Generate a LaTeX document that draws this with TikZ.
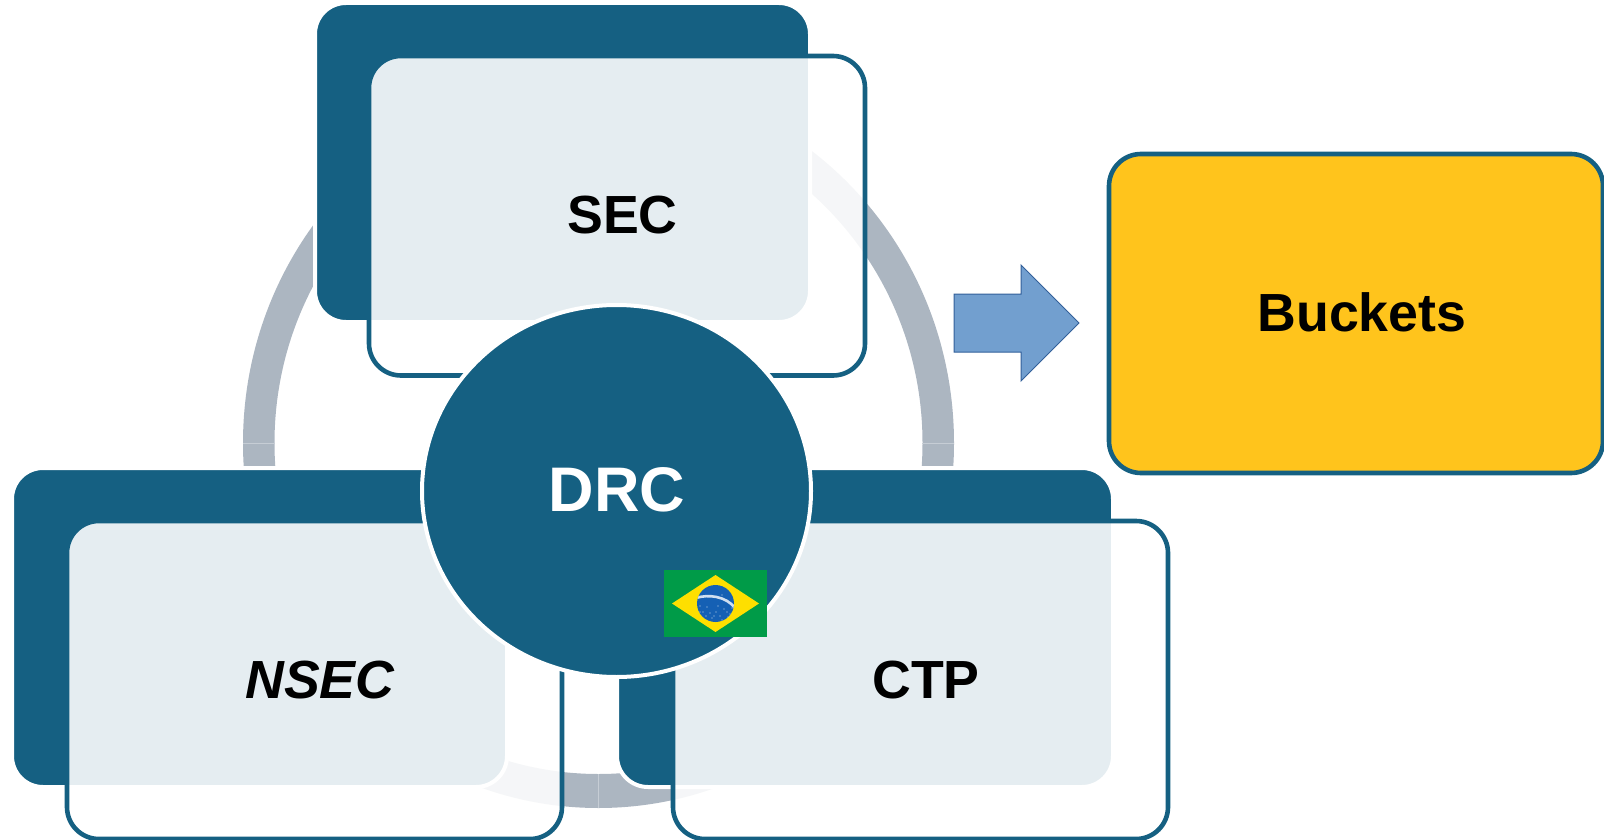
\documentclass[tikz,border=0pt]{standalone}
\usepackage{fontspec}
\usetikzlibrary{shapes.geometric}
\setmainfont{Liberation Sans}
\definecolor{darkteal}{HTML}{156082}
\definecolor{ringgray}{HTML}{ACB6C1}
\definecolor{ringseam}{HTML}{C6CDD5}
\definecolor{bucketgold}{HTML}{FFC41C}
\definecolor{arrowblue}{HTML}{729FCF}
\definecolor{arrowedge}{HTML}{33609A}
\definecolor{flaggreen}{HTML}{009B48}
\definecolor{flagyellow}{HTML}{FEDF00}
\definecolor{flagblue}{HTML}{1560B4}
\tikzset{
  x=1pt,y=-1pt,
  backbox/.style={fill=darkteal,draw=white,line width=4pt,rounded corners=31pt},
  frontbox/.style={draw=darkteal,line width=4.6pt,fill=white,fill opacity=0.89,rounded corners=32pt},
  boxlabel/.style={font=\bfseries\fontsize{53.7}{60}\selectfont,text=black,inner sep=0pt},
  flagdot/.style={fill=white!75!flagblue}
}
\begin{document}
\begin{tikzpicture}
\useasboundingbox (0,0) rectangle (1604,840);
% ring
\fill[ringgray,even odd rule] (598.5,443) ellipse [x radius=355.5,y radius=365]
  (598.5,443) ellipse [x radius=324,y radius=331];
\draw[ringseam,line width=0.7pt] (243,443) -- (275,443);
\draw[ringseam,line width=0.7pt] (922,443) -- (954,443);
\draw[ringseam,line width=0.7pt] (598,774) -- (598,808);
% SEC
\draw[backbox] (315,3) rectangle (810,322);
\draw[frontbox] (369,56) rectangle (865,375.5);
% NSEC
\draw[backbox] (12,468) rectangle (507,787);
\draw[frontbox] (67,521) rectangle (562,839);
% CTP
\draw[backbox] (617,468) rectangle (1113,787);
\draw[frontbox] (673,521) rectangle (1168,839);
% hub
\node[ellipse,draw=white,fill=darkteal,line width=4pt,minimum width=389pt,minimum height=372pt,inner sep=0pt] (hub) at (616.5,491) {};
\node[boxlabel,text=white,font=\bfseries\fontsize{63}{70}\selectfont] (drc) at (617,490) {DRC};
\node[boxlabel] (sec) at (622.5,215) {SEC};
\node[boxlabel,font=\bfseries\itshape\fontsize{53.7}{60}\selectfont] (nsec) at (320,680) {NSEC};
\node[boxlabel] (ctp) at (926,680) {CTP};
% block arrow
\draw[fill=arrowblue,draw=arrowedge,line width=1pt]
  (954,294) -- (1021,294) -- (1021,265) -- (1079,323) -- (1021,381) -- (1021,352) -- (954,352) -- cycle;
% Buckets
\draw[fill=bucketgold,draw=darkteal,line width=4.6pt,rounded corners=32pt] (1109,154) rectangle (1603,473);
\node[boxlabel] (buckets) at (1362,312) {Buckets};
% flag
\fill[flaggreen] (664,570) rectangle (767,637);
\fill[flagyellow] (672,603.5) -- (715.5,575) -- (759,603.5) -- (715.5,632) -- cycle;
\fill[flagblue] (715.5,603.5) circle [radius=18.5];
\begin{scope}
\clip (715.5,603.5) circle [radius=18.5];
\draw[white!80!flagblue,line width=2.6pt] (696,598) .. controls (708,594) and (726,596) .. (735,608);
\end{scope}
\foreach \px/\py in {700/606,703/612,707/607,710/613,712/618,706/616,716/612,720/616,724/609,727/612,730/614,732/608,728/617,722/620,718/606,722/595,700/612,714/616}{
  \fill[flagdot] (\px,\py) circle [radius=0.6];
}
\end{tikzpicture}
\end{document}
